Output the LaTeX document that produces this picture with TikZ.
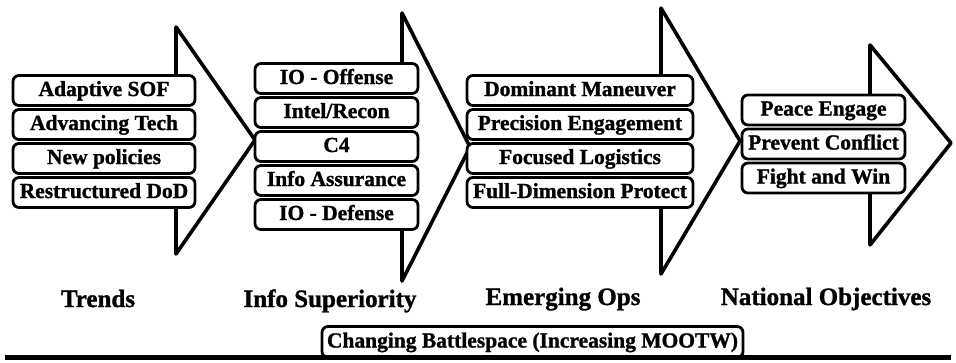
\documentclass[tikz,border=0pt]{standalone}
\usepackage{fontspec}
\setmainfont{Liberation Serif}[BoldFeatures={FakeBold=1.2}]
\begin{document}
\begin{tikzpicture}[x=1pt,y=-1pt,
  item/.style={draw, line width=2.8pt, rounded corners=6pt, fill=white, inner sep=0pt,
    minimum height=30pt, text height=15pt, text depth=4pt,
    font=\fontsize{21.5}{23}\selectfont\bfseries},
  arrowline/.style={line width=3.6pt, line join=round, line cap=round},
  lbl/.style={inner sep=0pt, text height=17pt, text depth=5pt, font=\fontsize{25}{27}\selectfont\bfseries}]
\useasboundingbox (0,0) rectangle (956,362);

% arrow outlines (heads); shafts lie under the box stacks
\draw[arrowline] (176,75) -- (176,27) -- (255,140) -- (176,254) -- (176,207);
\draw[arrowline] (402,63) -- (402,13) -- (470,147) -- (402,281) -- (402,230);
\draw[arrowline] (661,75) -- (661,8) -- (740,141) -- (661,274) -- (661,208);
\draw[arrowline] (870,95) -- (870,45) -- (951,143) -- (870,245) -- (870,193);

% Trends
\begin{scope}[every node/.style={item, minimum width=182pt}]
\node (a1) at (104,90.5) {Adaptive SOF};
\node (a2) at (104,124.5) {Advancing Tech};
\node (a3) at (104,158.5) {New policies};
\node (a4) at (104,192.5) {Restructured DoD};
\end{scope}

% Info Superiority
\begin{scope}[every node/.style={item, minimum width=163pt}]
\node (b1) at (336.5,78.5) {IO - Offense};
\node (b2) at (336.5,112.5) {Intel/Recon};
\node (b3) at (336.5,146.5) {C4};
\node (b4) at (336.5,180.5) {Info Assurance};
\node (b5) at (336.5,214.5) {IO - Defense};
\end{scope}

% Emerging Ops
\begin{scope}[every node/.style={item, minimum width=226pt}]
\node (c1) at (580,90.5) {Dominant Maneuver};
\node (c2) at (580,124.5) {Precision Engagement};
\node (c3) at (580,158.5) {Focused Logistics};
\node (c4) at (580,192.5) {Full-Dimension Protect};
\end{scope}

% National Objectives
\begin{scope}[every node/.style={item, minimum width=163pt}]
\node (d1) at (823.5,110) {Peace Engage};
\node (d2) at (823.5,144) {Prevent Conflict};
\node (d3) at (823.5,178) {Fight and Win};
\end{scope}

% column labels
\node[lbl] (l1) at (98,301) {Trends};
\node[lbl] (l2) at (330,301) {Info Superiority};
\node[lbl] (l3) at (563,299) {Emerging Ops};
\node[lbl] (l4) at (826,299) {National Objectives};

% changing battlespace bar
\node[item, minimum width=421pt, minimum height=31pt] (cb) at (532.5,342) {Changing Battlespace (Increasing MOOTW)};
\coordinate (bl) at (5,357);
\coordinate (br) at (951,357);
\draw[line width=5pt] (bl) -- (br);
\end{tikzpicture}
\end{document}
